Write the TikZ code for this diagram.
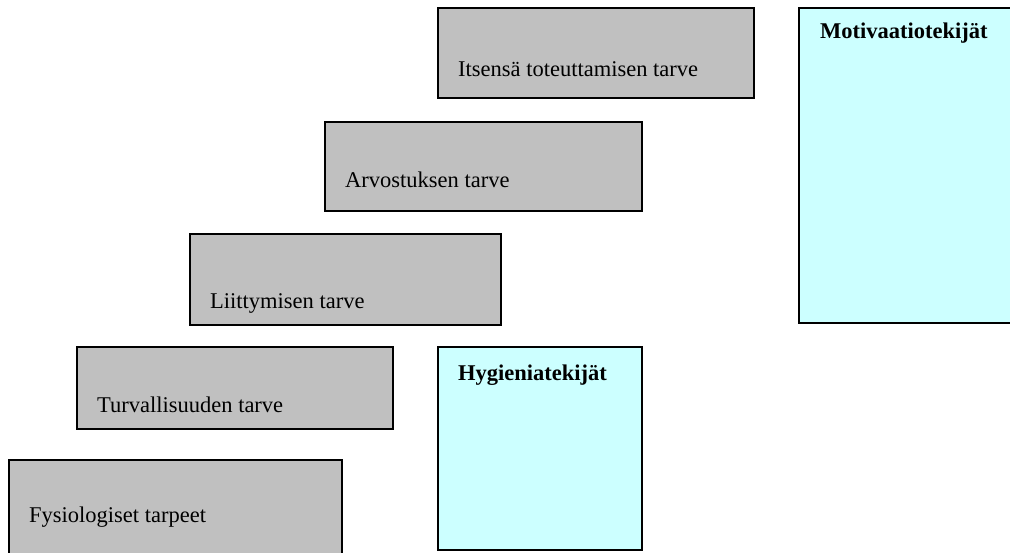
\documentclass[tikz,border=0pt]{standalone}
\usepackage{fontspec}
\setmainfont{Liberation Serif}
\definecolor{needgray}{RGB}{192,192,192}
\definecolor{factorcyan}{RGB}{204,255,255}

\tikzset{
  needbox/.style={draw=black, line width=1.5pt, fill=needgray, inner sep=0pt, outer sep=0pt},
  factorbox/.style={draw=black, line width=1.5pt, fill=factorcyan, inner sep=0pt, outer sep=0pt},
  needtext/.style={anchor=base west, inner sep=0pt, font=\fontsize{22.5}{27}\selectfont},
  factortext/.style={anchor=base west, inner sep=0pt, font=\fontsize{22.5}{27}\selectfont\bfseries}
}

\begin{document}
\begin{tikzpicture}[x=1pt, y=-1pt]
      \clip (0,0) rectangle (1010,552);
      % Maslow: tarpeiden portaat
      \node[needbox, minimum width=316pt, minimum height=90pt] (self) at (596,53) {};
      \node[needtext] (selftxt) at (458,76) {Itsensä toteuttamisen tarve};
      \node[needbox, minimum width=317pt, minimum height=89pt] (esteem) at (483.5,166.5) {};
      \node[needtext] (esteemtxt) at (345,187) {Arvostuksen tarve};
      \node[needbox, minimum width=311pt, minimum height=91pt] (social) at (345.5,279.5) {};
      \node[needtext] (socialtxt) at (210,308) {Liittymisen tarve};
      \node[needbox, minimum width=316pt, minimum height=82pt] (safety) at (235,388) {};
      \node[needtext] (safetytxt) at (97,412) {Turvallisuuden tarve};
      \node[needbox, minimum width=333pt, minimum height=100pt] (physio) at (175.5,510) {};
      \node[needtext] (physiotxt) at (29,522) {Fysiologiset tarpeet};
      % Herzberg: tekijät
      \node[factorbox, minimum width=204pt, minimum height=203pt] (hyg) at (540,448.5) {};
      \node[factortext] (hygtxt) at (458,380) {Hygieniatekijät};
      \node[factorbox, minimum width=220pt, minimum height=315pt] (mot) at (909,165.5) {};
      \node[factortext] (mottxt) at (820,38) {Motivaatiotekijät};
\end{tikzpicture}
\end{document}
